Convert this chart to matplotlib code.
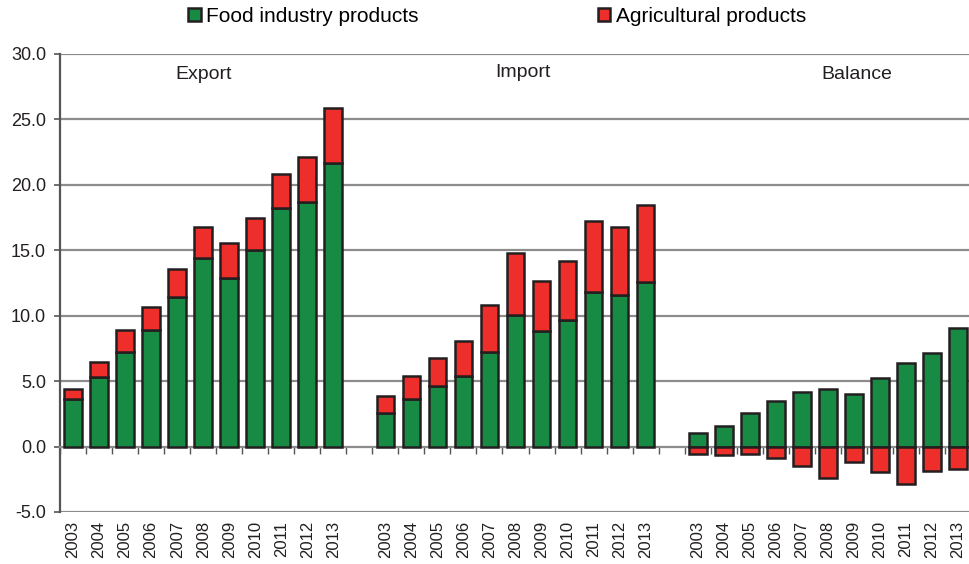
import numpy as np
import matplotlib.pyplot as plt
from matplotlib.transforms import blended_transform_factory

plt.rcParams['font.family'] = ['Liberation Sans', 'DejaVu Sans']

years = [str(y) for y in range(2003, 2014)]
sections = ["Export", "Import", "Balance"]

# food industry products (bottom of stack), bn EUR
export_food = [3.6, 5.3, 7.2, 8.9, 11.4, 14.4, 12.9, 15.0, 18.2, 18.7, 21.7]
export_agri = [0.8, 1.2, 1.7, 1.8, 2.2, 2.4, 2.65, 2.5, 2.6, 3.4, 4.2]
import_food = [2.6, 3.65, 4.6, 5.4, 7.2, 10.05, 8.85, 9.7, 11.8, 11.6, 12.6]
import_agri = [1.3, 1.75, 2.2, 2.65, 3.6, 4.75, 3.8, 4.45, 5.4, 5.15, 5.85]
balance_food = [1.0, 1.6, 2.6, 3.45, 4.15, 4.4, 4.0, 5.25, 6.4, 7.15, 9.05]
balance_agri = [-0.55, -0.65, -0.6, -0.85, -1.5, -2.4, -1.15, -1.95, -2.85, -1.9, -1.7]

green = "#178a43"
red = "#ee2e2a"
edge = "#231f20"

fig = plt.figure(figsize=(9.69, 5.64), dpi=100)
ax = fig.add_axes([60 / 969, 52 / 564, 911 / 969, 458 / 564])

n = len(years)
x_exp = np.arange(n)
x_imp = np.arange(n) + n + 1
x_bal = np.arange(n) + 2 * (n + 1)
w = 0.68
bar_kw = dict(width=w, edgecolor=edge, linewidth=1.8, zorder=3)

ax.bar(x_exp, export_food, color=green, label="Food industry products", **bar_kw)
ax.bar(x_exp, export_agri, bottom=export_food, color=red, label="Agricultural products", **bar_kw)
ax.bar(x_imp, import_food, color=green, **bar_kw)
ax.bar(x_imp, import_agri, bottom=import_food, color=red, **bar_kw)
ax.bar(x_bal, balance_food, color=green, **bar_kw)
ax.bar(x_bal, balance_agri, color=red, **bar_kw)

ax.set_xlim(-0.5, 3 * n + 2 - 0.5)
ax.set_ylim(-5, 30)
ax.set_yticks(np.arange(-5, 31, 5))
ax.set_yticklabels([f"{v:.1f}" for v in np.arange(-5, 31, 5)], fontsize=13, color="#231f20")
ax.tick_params(axis="y", length=4, width=1.2, color="#555555", pad=6)

for v in range(-5, 31, 5):
    if v != 0:
        ax.axhline(v, color="#8c8c8c", linewidth=1.6, zorder=1)

# category axis crosses at zero
ax.spines["bottom"].set_position(("data", 0))
ax.spines["bottom"].set_color("#8c8c8c")
ax.spines["bottom"].set_linewidth(1.6)
ax.spines["left"].set_color("#555555")
ax.spines["left"].set_linewidth(1.6)
ax.spines["top"].set_visible(False)
ax.spines["right"].set_visible(False)
ax.set_xticks(np.arange(-0.5, 3 * n + 2, 1.0))
ax.set_xticklabels([])
ax.tick_params(axis="x", length=5, width=1.0, color="#555555", direction="out")

trans = blended_transform_factory(ax.transData, ax.transAxes)
for xs in (x_exp, x_imp, x_bal):
    for xi, yr in zip(xs, years):
        ax.text(xi, -0.02, yr, rotation=90, ha="center", va="top",
                fontsize=12, color="#231f20", transform=trans)

ax.text(5.0, 28.4, sections[0], ha="center", va="center", fontsize=14, color="#231f20")
ax.text(17.3, 28.6, sections[1], ha="center", va="center", fontsize=14, color="#231f20")
ax.text(30.1, 28.4, sections[2], ha="center", va="center", fontsize=14, color="#231f20")

fig.legend(loc="center", bbox_to_anchor=(0.513, 1 - 16 / 564), ncol=2, frameon=False,
           fontsize=15, handlelength=0.6, handleheight=0.6, handletextpad=0.25,
           columnspacing=8.6)

fig.savefig("out.png", dpi=100)
